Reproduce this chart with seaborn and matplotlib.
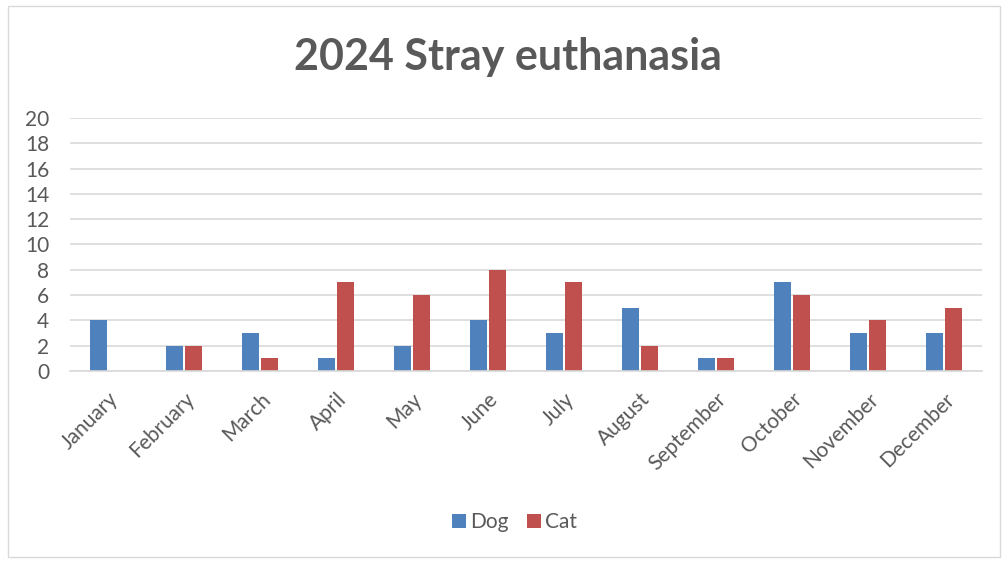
import matplotlib
matplotlib.use("Agg")
import matplotlib.pyplot as plt
import seaborn as sns
import pandas as pd
from matplotlib.patches import Rectangle

months = ["January", "February", "March", "April", "May", "June", "July",
          "August", "September", "October", "November", "December"]
dog = [4, 2, 3, 1, 2, 4, 3, 5, 1, 7, 3, 3]
cat = [0, 2, 1, 7, 6, 8, 7, 2, 1, 6, 4, 5]
series = ["Dog", "Cat"]
yticks = list(range(0, 21, 2))

df = pd.DataFrame({
    "month": months * 2,
    "value": dog + cat,
    "series": ["Dog"] * len(months) + ["Cat"] * len(months),
})

sns.set_theme(style="white")
plt.rcParams["font.family"] = ["Lato", "DejaVu Sans"]
txt = "#595959"

fig = plt.figure(figsize=(10.03, 5.61), dpi=100)
ax = fig.add_axes([0.0698, 0.3387, 0.9092, 0.451])
sns.barplot(data=df, x="month", y="value", hue="series", hue_order=series,
            palette={"Dog": "#4F81BD", "Cat": "#C0504D"},
            width=0.5, gap=0.12, ax=ax, legend=True, saturation=1,
            linewidth=0)

ax.set_ylim(0, 20)
ax.set_xlim(-0.5, 11.5)
ax.set_yticks(yticks)
ax.set_yticklabels([str(t) for t in yticks], fontsize=15, color=txt)
ax.set_xticks(range(len(months)))
ax.set_xticklabels(months, rotation=45, ha="right", rotation_mode="anchor",
                   fontsize=15, color=txt)
ax.tick_params(axis="both", length=0)
ax.tick_params(axis="y", pad=15)
ax.tick_params(axis="x", pad=13)
ax.yaxis.grid(True, color="#D9D9D9", linewidth=1.2)
ax.set_axisbelow(True)
for s in ["top", "right", "left"]:
    ax.spines[s].set_visible(False)
ax.spines["bottom"].set_color("#D9D9D9")
ax.spines["bottom"].set_linewidth(1.2)
ax.set_xlabel("")
ax.set_ylabel("")

handles, labels = ax.get_legend_handles_labels()
ax.legend_.remove()
fig.legend(handles, labels, loc="center", bbox_to_anchor=(0.513, 0.069),
           ncol=2, frameon=False, fontsize=15, handlelength=0.7,
           handleheight=0.7, columnspacing=0.85, handletextpad=0.2,
           labelcolor=txt)

fig.text(0.506, 0.898, "2024 Stray euthanasia", ha="center", va="center",
         fontsize=31, fontweight="bold", color=txt)

fig.patches.append(Rectangle((0.008, 0.008), 0.989, 0.982, transform=fig.transFigure,
                             fill=False, edgecolor="#D9D9D9", linewidth=1))

fig.savefig("out.png", dpi=100)
